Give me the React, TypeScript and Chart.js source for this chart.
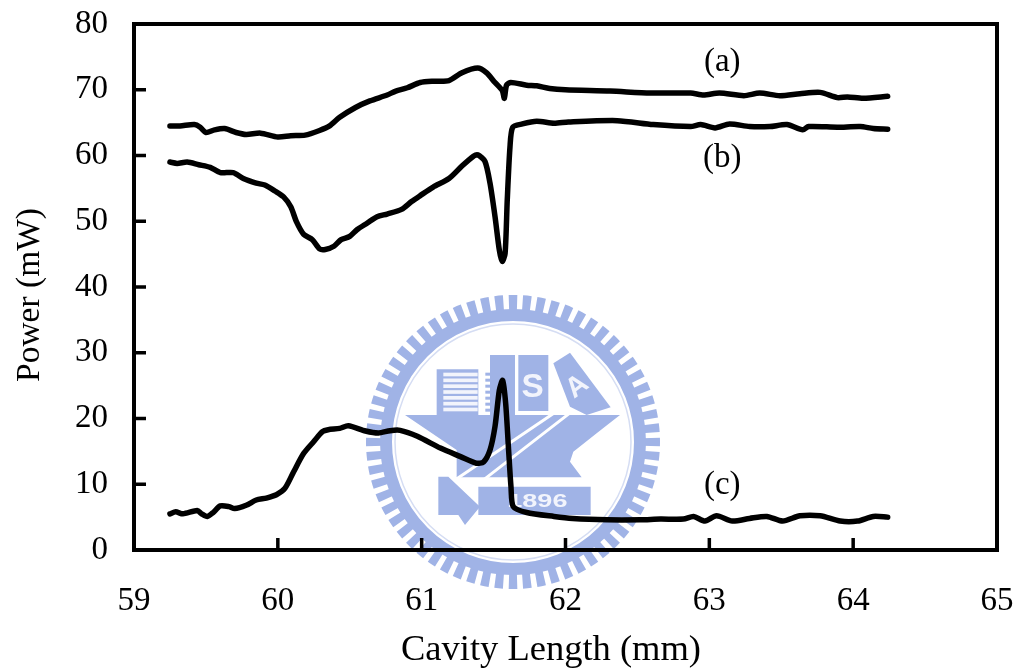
import React, { useEffect, useRef } from "react";
import { Chart, registerables } from "chart.js";

Chart.register(...registerables);

const xA = [59.25,59.32,59.42,59.46,59.5,59.56,59.63,59.71,59.78,59.88,60,60.09,60.19,60.29,60.36,60.43,60.54,60.64,60.76,60.82,60.9,60.99,61.09,61.19,61.28,61.39,61.45,61.51,61.56,61.575,61.59,61.62,61.73,61.8,61.89,62,62.31,62.59,62.87,62.96,63.07,63.24,63.35,63.49,63.63,63.77,63.89,63.96,64.07,64.24];
const yA = [64.5,64.5,64.7,64.3,63.5,63.9,64.1,63.5,63.2,63.4,62.8,63,63.1,63.8,64.5,65.8,67.3,68.3,69.2,69.8,70.3,71.1,71.3,71.4,72.6,73.3,72.6,71.1,69.9,68.7,70.7,71.1,70.7,70.6,70.2,70,69.8,69.5,69.5,69.2,69.5,69.1,69.5,69.1,69.4,69.6,68.8,68.9,68.7,69];
const xB = [59.25,59.3,59.37,59.45,59.53,59.6,59.69,59.76,59.85,59.91,59.98,60.04,60.09,60.13,60.18,60.24,60.29,60.33,60.39,60.44,60.5,60.55,60.62,60.69,60.76,60.86,60.93,60.99,61.08,61.19,61.28,61.36,61.39,61.44,61.475,61.51,61.54,61.56,61.58,61.595,61.614,61.633,61.7,61.8,61.92,62.02,62.36,62.61,62.87,62.94,63.04,63.14,63.28,63.42,63.54,63.65,63.69,63.89,64.05,64.14,64.24];
const yB = [59,58.8,59,58.6,58.2,57.4,57.4,56.5,55.8,55.5,54.6,53.7,52.2,49.9,48,47.2,45.8,45.7,46.2,47.2,47.7,48.7,49.7,50.7,51.1,51.8,53,53.9,55.2,56.5,58.4,59.9,60.1,59.1,55.8,50.7,45.6,43.9,45.1,53.2,61.3,64.3,64.8,65.2,64.9,65.1,65.3,64.7,64.4,64.7,64.2,64.8,64.4,64.4,64.7,63.9,64.4,64.3,64.4,64.1,64];
const xC = [59.25,59.29,59.34,59.44,59.47,59.51,59.55,59.6,59.66,59.7,59.78,59.85,59.92,59.99,60.05,60.11,60.18,60.25,60.31,60.35,60.43,60.49,60.61,60.7,60.78,60.85,60.97,61.13,61.27,61.38,61.43,61.475,61.51,61.54,61.563,61.584,61.603,61.621,61.637,61.73,61.92,62.05,62.29,62.52,62.66,62.82,62.89,62.97,63.05,63.16,63.28,63.4,63.51,63.63,63.77,63.91,64.03,64.14,64.24];
const yC = [5.5,5.8,5.5,6,5.5,5.1,5.7,6.7,6.6,6.3,6.8,7.6,7.9,8.4,9.4,11.9,14.7,16.5,18,18.3,18.5,18.9,18.1,17.8,18.15,18.2,17.3,15.5,14.2,13.2,13.4,15.2,18.8,24.3,25.8,22.3,15.7,9.6,6.6,5.7,5.1,4.8,4.6,4.6,4.7,4.7,5.1,4.4,5.2,4.4,4.8,5.1,4.4,5.2,5.2,4.4,4.4,5.1,5];
const xTicks = [59,60,61,62,63,64,65];
const yTicks = [0,10,20,30,40,50,60,70,80];
const curveNames = ["(a)", "(b)", "(c)"];
const curveLabelX = [63.09, 63.09, 63.09];
const curveLabelY = [74.2, 59.6, 9.9];
const xTitle = "Cavity Length (mm)";
const yTitle = "Power (mW)";

const SERIF = '"Liberation Serif", "Times New Roman", serif';
const LOGO = "#a0b3e6";

function drawWatermark(ctx: CanvasRenderingContext2D) {
  ctx.save();
  (ctx as any).filter = "blur(0.6px)";
  const cx = 513, cy = 442;
  ctx.strokeStyle = LOGO;
  ctx.lineWidth = 18;
  const teeth = 64;
  const R = 138;
  const step = (2 * Math.PI) / teeth;
  for (let i = 0; i < teeth; i++) {
    const a = i * step;
    ctx.beginPath();
    ctx.arc(cx, cy, R, a - step * 0.3, a + step * 0.3);
    ctx.stroke();
  }
  ctx.lineWidth = 12;
  ctx.beginPath();
  ctx.arc(cx, cy, 127, 0, Math.PI * 2);
  ctx.stroke();
  ctx.strokeStyle = "#d5ddf3";
  ctx.lineWidth = 1.5;
  ctx.beginPath();
  ctx.arc(cx, cy, 118, 0, Math.PI * 2);
  ctx.stroke();

  ctx.translate(340, 280);
  ctx.scale(1 / 3, 1 / 3);
  const poly = (pts: number[][], fill: string) => {
    ctx.fillStyle = fill;
    ctx.beginPath();
    pts.forEach(([x, y], i) => (i ? ctx.lineTo(x, y) : ctx.moveTo(x, y)));
    ctx.closePath();
    ctx.fill();
  };
  poly([[290,268],[415,268],[415,405],[290,405]], LOGO);
  ctx.fillStyle = "#f2f4fc";
  for (let i = 0; i < 7; i++) ctx.fillRect(310, 278 + i * 17.5, 103, 11);
  ctx.fillStyle = LOGO;
  for (let i = 0; i < 7; i++) ctx.fillRect(436, 278 + i * 18, 14, 9);
  poly([[450,225],[525,225],[525,405],[450,405]], LOGO);
  poly([[535,225],[625,225],[625,393],[535,393]], LOGO);
  poly([[640,250],[690,218],[812,382],[740,405],[690,380]], LOGO);
  poly([[195,405],[840,405],[770,460],[700,515],[690,545],[725,592],[350,592],[350,510]], LOGO);
  poly([[295,590],[325,590],[420,680],[375,735],[355,705],[295,705]], LOGO);
  poly([[415,620],[752,620],[752,705],[415,705]], LOGO);
  ctx.strokeStyle = "#ffffff";
  ctx.lineWidth = 9;
  ctx.beginPath();
  ctx.moveTo(668, 382);
  ctx.lineTo(345, 600);
  ctx.moveTo(695, 395);
  ctx.lineTo(385, 635);
  ctx.moveTo(668, 382);
  ctx.lineTo(695, 395);
  ctx.stroke();
  ctx.fillStyle = "#f2f4fc";
  ctx.textAlign = "center";
  ctx.textBaseline = "middle";
  ctx.font = 'bold 100px "Liberation Sans", sans-serif';
  ctx.fillText("S", 578, 322);
  ctx.save();
  ctx.translate(712, 320);
  ctx.rotate(-0.65);
  ctx.font = 'bold 84px "Liberation Sans", sans-serif';
  ctx.fillText("A", 0, 0);
  ctx.restore();
  ctx.save();
  ctx.translate(592, 665);
  ctx.scale(1.45, 1);
  ctx.font = 'bold 56px "Liberation Sans", sans-serif';
  ctx.fillText("1896", 0, 0);
  ctx.restore();
  ctx.restore();
}

export default function App() {
  const ref = useRef<HTMLCanvasElement | null>(null);

  useEffect(() => {
    document.body.style.margin = "0";
    const ctx = ref.current!.getContext("2d")!;
    const toPts = (xs: number[], ys: number[]) => xs.map((x, i) => ({ x, y: ys[i] }));
    const line = (label: string, xs: number[], ys: number[]) => ({
      label,
      data: toPts(xs, ys),
      showLine: true,
      borderColor: "#000000",
      borderWidth: 5.5,
      pointRadius: 0,
      tension: 0.25,
      borderCapStyle: "round" as const,
      borderJoinStyle: "round" as const,
      fill: false,
    });
    const chart = new Chart(ctx, {
      type: "scatter",
      data: {
        datasets: [line("(a)", xA, yA), line("(b)", xB, yB), line("(c)", xC, yC)],
      },
      plugins: [
        {
          id: "decor",
          beforeDatasetsDraw(c: any) {
            drawWatermark(c.ctx);
            const { ctx: g, chartArea: a, scales } = c;
            g.save();
            g.strokeStyle = "#000";
            g.lineWidth = 4;
            g.lineCap = "butt";
            g.strokeRect(a.left, a.top, a.right - a.left, a.bottom - a.top);
            g.lineWidth = 3.5;
            g.beginPath();
            xTicks.forEach((t) => {
              const p = scales.x.getPixelForValue(t);
              g.moveTo(p, a.bottom);
              g.lineTo(p, a.bottom - 12);
            });
            yTicks.forEach((t) => {
              const p = scales.y.getPixelForValue(t);
              g.moveTo(a.left, p);
              g.lineTo(a.left + 12, p);
            });
            g.stroke();
            g.restore();
          },
          afterDatasetsDraw(c: any) {
            const { ctx: g, scales } = c;
            g.save();
            g.fillStyle = "#000";
            g.font = `33px ${SERIF}`;
            g.textAlign = "center";
            g.textBaseline = "middle";
            curveNames.forEach((n, i) => {
              g.fillText(n, scales.x.getPixelForValue(curveLabelX[i]), scales.y.getPixelForValue(curveLabelY[i]));
            });
            g.font = `36.5px ${SERIF}`;
            g.fillText(xTitle, 551, 650);
            g.translate(30, 295);
            g.rotate(-Math.PI / 2);
            g.font = `33.5px ${SERIF}`;
            g.fillText(yTitle, 0, 0);
            g.restore();
          },
        },
      ],
      options: {
        animation: false,
        responsive: false,
        layout: { padding: { top: 24, right: 20, left: 0, bottom: 0 } },
        plugins: { legend: { display: false }, tooltip: { enabled: false } },
        scales: {
          x: {
            type: "linear",
            min: 59,
            max: 65,
            afterFit: (s: any) => { s.height = 121; s.paddingLeft = 0; s.paddingRight = 0; },
            afterBuildTicks: (s: any) => { s.ticks = xTicks.map((value) => ({ value })); },
            grid: { display: false },
            border: { display: false },
            ticks: { color: "#000", font: { family: SERIF, size: 33 }, padding: 24, maxRotation: 0, autoSkip: false },
          },
          y: {
            type: "linear",
            min: 0,
            max: 80,
            afterFit: (s: any) => { s.width = 134; s.paddingTop = 0; s.paddingBottom = 0; },
            afterBuildTicks: (s: any) => { s.ticks = yTicks.map((value) => ({ value })); },
            grid: { display: false },
            border: { display: false },
            ticks: { color: "#000", font: { family: SERIF, size: 33 }, padding: 18, autoSkip: false },
          },
        },
      },
    } as any);
    return () => chart.destroy();
  }, []);

  return <canvas ref={ref} width={1017} height={671} style={{ display: "block" }} />;
}
